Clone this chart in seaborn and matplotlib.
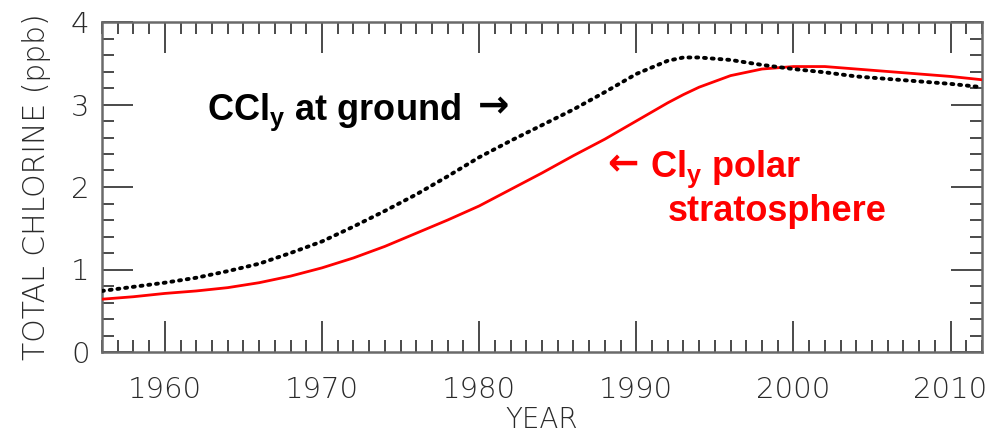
import matplotlib
matplotlib.use("Agg")
import matplotlib.pyplot as plt
from matplotlib.ticker import MultipleLocator
import seaborn as sns
import pandas as pd

years = [1956, 1958, 1960, 1962, 1964, 1966, 1968, 1970, 1972, 1974,
         1976, 1978, 1980, 1982, 1984, 1986, 1988, 1990, 1992, 1993,
         1994, 1996, 1998, 2000, 2002, 2004, 2006, 2008, 2010, 2012]

ccly_ground = [0.74, 0.79, 0.84, 0.90, 0.98, 1.07, 1.20, 1.34, 1.52, 1.71,
               1.91, 2.13, 2.36, 2.56, 2.75, 2.94, 3.15, 3.37, 3.53, 3.57,
               3.57, 3.54, 3.48, 3.43, 3.39, 3.34, 3.31, 3.28, 3.25, 3.21]

cly_polar = [0.64, 0.67, 0.71, 0.74, 0.78, 0.84, 0.92, 1.02, 1.14, 1.28,
             1.44, 1.60, 1.77, 1.97, 2.17, 2.38, 2.58, 2.80, 3.02, 3.12,
             3.21, 3.35, 3.43, 3.46, 3.46, 3.43, 3.40, 3.37, 3.34, 3.30]

x_ticks = [1960, 1970, 1980, 1990, 2000, 2010]
y_ticks = [0, 1, 2, 3, 4]

df = pd.DataFrame({"year": years, "ground": ccly_ground, "polar": cly_polar})

sns.set_theme(style="ticks")
plt.rcParams["font.family"] = ["DejaVu Sans"]
plt.rcParams["mathtext.fontset"] = "custom"
plt.rcParams["mathtext.rm"] = "Liberation Sans"
plt.rcParams["mathtext.bf"] = "Liberation Sans:bold"

fig = plt.figure(figsize=(9.88, 4.33), dpi=100)
ax = fig.add_axes([102 / 988, 81 / 433, 880 / 988, 330 / 433])

sns.lineplot(data=df, x="year", y="polar", ax=ax, color="#ff0000",
             linewidth=2.0, zorder=3)
sns.lineplot(data=df, x="year", y="ground", ax=ax, color="black",
             linewidth=2.8, linestyle=(0, (0.5, 1.5)),
             dash_capstyle="round", zorder=4)

ax.set_xlim(1956, 2012)
ax.set_ylim(0, 4)
ax.set_xticks(x_ticks)
ax.set_yticks(y_ticks)
ax.xaxis.set_minor_locator(MultipleLocator(1))
ax.yaxis.set_minor_locator(MultipleLocator(0.2))

tick_col = "#4a4a4a"
ax.tick_params(which="both", direction="in", top=True, right=True,
               color=tick_col, width=1.4)
ax.tick_params(which="major", length=22)
ax.tick_params(which="minor", length=8.5)
ax.tick_params(axis="x", which="major", pad=17, labelsize=21,
               labelcolor="#2a2a2a")
ax.tick_params(axis="y", which="major", pad=9, labelsize=21,
               labelcolor="#2a2a2a")
for lab in ax.get_xticklabels() + ax.get_yticklabels():
    lab.set_fontweight("light")
for sp in ax.spines.values():
    sp.set_color("#6a6a6a")
    sp.set_linewidth(1.8)

ax.set_xlabel("YEAR", fontsize=20, color="#2a2a2a", fontweight="light",
              labelpad=2)
ax.set_ylabel("TOTAL CHLORINE (ppb)", fontsize=21.5, color="#2a2a2a",
              fontweight="light", labelpad=14)

lab_font = ["Liberation Sans", "DejaVu Sans"]
arrow_font = ["DejaVu Sans"]

# ground-level label with its arrow pointing at the dotted curve
ax.text(1962.68, 2.91, r"CCl$_\mathbf{y}$ at ground", fontsize=26,
        fontweight="bold", family=lab_font, color="black",
        ha="left", va="center")
ax.text(1979.9, 2.96, "→", fontsize=27, fontweight="bold",
        family=arrow_font, color="black", ha="left", va="center")

# polar stratosphere label with its arrow pointing at the red curve
ax.text(1990.15, 2.26, "←", fontsize=27, fontweight="bold",
        family=arrow_font, color="#ff0000", ha="right", va="center")
ax.text(1990.87, 2.21, r"Cl$_\mathbf{y}$ polar", fontsize=26,
        fontweight="bold", family=lab_font, color="#ff0000",
        ha="left", va="center")
ax.text(1992.02, 1.70, "stratosphere", fontsize=26,
        fontweight="bold", family=lab_font, color="#ff0000",
        ha="left", va="center")

fig.savefig("out.png", dpi=100)
